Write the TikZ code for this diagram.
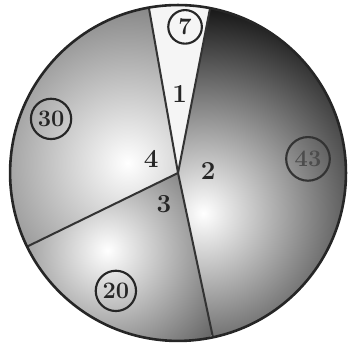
\documentclass[tikz,border=0pt]{standalone}
\usepackage{fontspec}
\usetikzlibrary{positioning}

\begin{document}
\begin{tikzpicture}[
    divider/.style={line width=1.7pt, black!80},
    secnum/.style={font=\fontsize{22}{22}\selectfont\bfseries, text=black!85},
    ringnum/.style={circle, draw=black!85, line width=1.8pt, inner sep=0pt, minimum size=#1, font=\fontsize{20}{20}\selectfont\bfseries, text=black!85},
    ringnum/.default=1cm
]
    \useasboundingbox (-5.30,-5.09) rectangle (5.15,5.15);
    \def\R{5}

    \coordinate (O) at (0,0);

    % sector 2 (dark)
    \begin{scope}
        \clip (O) -- (282:\R) arc (282:439:\R) -- cycle;
        \shade[inner color=white, outer color=black!95] (0.75,-1.2) circle (6.4);
    \end{scope}
    % sector 4
    \begin{scope}
        \clip (O) -- (100:\R) arc (100:206:\R) -- cycle;
        \shade[inner color=white, outer color=black!50] (-1.5,0.3) circle (5);
    \end{scope}
    % sector 3
    \begin{scope}
        \clip (O) -- (206:\R) arc (206:282:\R) -- cycle;
        \shade[inner color=white, outer color=black!60] (-2.1,-2.3) circle (4);
    \end{scope}
    % sector 1
    \fill[black!4] (O) -- (79:\R) arc (79:100:\R) -- cycle;

    \draw[divider] (O) -- (79:\R);
    \draw[divider] (O) -- (100:\R);
    \draw[divider] (O) -- (206:\R);
    \draw[divider] (O) -- (282:\R);
    \draw[line width=2.2pt, black!85] (O) circle (\R);

    \node[secnum] (n1) at (0.05,2.35) {1};
    \node[secnum] (n2) at (0.9,0.06) {2};
    \node[secnum] (n3) at (-0.42,-0.92) {3};
    \node[secnum] (n4) at (-0.8,0.42) {4};

    \node[ringnum=1.0cm] (p7) at (0.21,4.35) {7};
    \node[ringnum=1.2cm] (p30) at (-3.78,1.61) {30};
    \node[ringnum=1.2cm] (p20) at (-1.85,-3.51) {20};
    \node[ringnum=1.3cm, draw=black!80, text=black!70] (p43) at (3.87,0.42) {43};
\end{tikzpicture}
\end{document}
